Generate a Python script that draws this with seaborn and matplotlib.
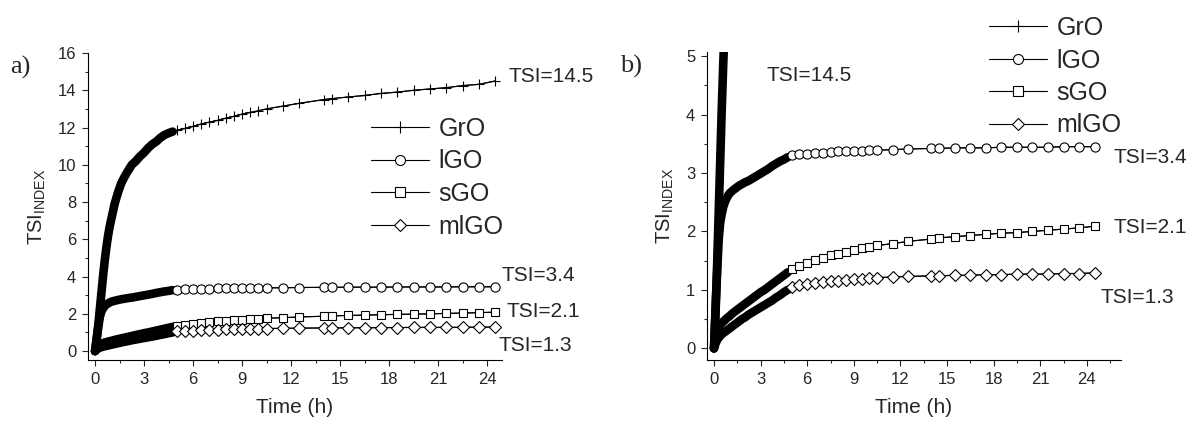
import matplotlib
matplotlib.use("Agg")
import matplotlib.pyplot as plt
from matplotlib.lines import Line2D
from matplotlib.ticker import MultipleLocator
import seaborn as sns

#%% data
series_names = ["GrO", "lGO", "sGO", "mlGO"]
series_markers = ["+", "o", "s", "D"]

# fast-sampled part (first ~5 h)
t_dense = [0, 0.1, 0.2, 0.3, 0.4, 0.5, 0.6, 0.7, 0.8, 0.9, 1.0, 1.2, 1.4, 1.6, 1.8,
           2.0, 2.25, 2.5, 2.75, 3.0, 3.25, 3.5, 3.75, 4.0, 4.25, 4.5, 4.75]
gro_dense = [0, 0.6, 1.4, 2.3, 3.2, 4.1, 4.9, 5.6, 6.2, 6.7, 7.1, 7.9, 8.5, 9.0, 9.35,
             9.65, 10.0, 10.2, 10.45, 10.65, 10.9, 11.1, 11.25, 11.45, 11.6, 11.7, 11.78]
lgo_dense = [0, 0.7, 1.3, 1.85, 2.15, 2.3, 2.42, 2.5, 2.56, 2.61, 2.65, 2.7, 2.74, 2.78, 2.81,
             2.84, 2.87, 2.91, 2.95, 2.99, 3.03, 3.07, 3.12, 3.16, 3.2, 3.23, 3.27]
sgo_dense = [0, 0.2, 0.3, 0.36, 0.4, 0.43, 0.46, 0.48, 0.51, 0.53, 0.55, 0.6, 0.64, 0.68, 0.72,
             0.76, 0.81, 0.86, 0.91, 0.96, 1.0, 1.05, 1.1, 1.15, 1.2, 1.25, 1.3]
mlgo_dense = [0, 0.08, 0.14, 0.18, 0.21, 0.24, 0.26, 0.28, 0.3, 0.32, 0.34, 0.38, 0.42, 0.46, 0.5,
              0.53, 0.58, 0.62, 0.66, 0.7, 0.74, 0.78, 0.82, 0.87, 0.91, 0.96, 1.0]

# slow-sampled part
t_sparse = [5.0, 5.5, 6.0, 6.5, 7.0, 7.5, 8.0, 8.5, 9.0, 9.5, 10.0, 10.5, 11.5, 12.5,
            14.0, 14.5, 15.5, 16.5, 17.5, 18.5, 19.5, 20.5, 21.5, 22.5, 23.5, 24.5]
gro_sparse = [11.85, 11.95, 12.06, 12.19, 12.29, 12.38, 12.5, 12.6, 12.72, 12.81, 12.9, 13.0, 13.15, 13.3,
              13.5, 13.55, 13.64, 13.72, 13.83, 13.9, 14.0, 14.07, 14.14, 14.25, 14.32, 14.5]
lgo_sparse = [3.3, 3.32, 3.33, 3.34, 3.35, 3.36, 3.37, 3.37, 3.38, 3.38, 3.39, 3.39, 3.4, 3.41,
              3.42, 3.42, 3.43, 3.43, 3.43, 3.44, 3.44, 3.44, 3.44, 3.45, 3.45, 3.45]
sgo_sparse = [1.35, 1.41, 1.46, 1.51, 1.55, 1.59, 1.62, 1.65, 1.68, 1.71, 1.73, 1.76, 1.79, 1.83,
              1.87, 1.89, 1.91, 1.93, 1.95, 1.97, 1.98, 2.0, 2.02, 2.04, 2.06, 2.09]
mlgo_sparse = [1.05, 1.08, 1.1, 1.12, 1.14, 1.15, 1.16, 1.17, 1.18, 1.19, 1.2, 1.21, 1.22, 1.23,
               1.24, 1.24, 1.25, 1.25, 1.26, 1.26, 1.27, 1.27, 1.27, 1.28, 1.28, 1.29]

dense_vals = [gro_dense, lgo_dense, sgo_dense, mlgo_dense]
sparse_vals = [gro_sparse, lgo_sparse, sgo_sparse, mlgo_sparse]

tsi_labels = ["TSI=14.5", "TSI=3.4", "TSI=2.1", "TSI=1.3"]

#%% style
sns.set_style("ticks")
plt.rcParams['font.family'] = ['Liberation Sans', 'DejaVu Sans']
plt.rcParams['mathtext.default'] = 'regular'

fig = plt.figure(figsize=(11.88, 4.22), dpi=100)
W, H = 1188, 422
ax_a = fig.add_axes([88 / W, 1 - 360 / H, 414 / W, 307 / H])
ax_b = fig.add_axes([707 / W, 1 - 360 / H, 414 / W, 308 / H])

marker_sizes = {"+": 7.5, "o": 6.6, "s": 6.0, "D": 5.8}


def draw_panel(ax, xlim, ylim, ymajor, yminor):
    for name, mk, d, s in zip(series_names, series_markers, dense_vals, sparse_vals):
        # thin connecting line through everything
        sns.lineplot(x=t_dense + t_sparse, y=d + s, ax=ax, color="black", lw=0.8,
                     estimator=None, sort=False, legend=False)
        # dense sampling shows up as a solid black band
        sns.lineplot(x=t_dense, y=d, ax=ax, color="black", lw=6.2, estimator=None,
                     sort=False, legend=False, solid_capstyle="round")
        sns.lineplot(x=t_sparse, y=s, ax=ax, color="black", lw=0.8, marker=mk,
                     markersize=marker_sizes[mk], markerfacecolor="white",
                     markeredgecolor="black", markeredgewidth=0.8,
                     estimator=None, sort=False, legend=False)
    ax.set_xlim(*xlim)
    ax.set_ylim(*ylim)
    ax.xaxis.set_major_locator(MultipleLocator(3))
    ax.xaxis.set_minor_locator(MultipleLocator(1.5))
    ax.yaxis.set_major_locator(MultipleLocator(ymajor))
    ax.yaxis.set_minor_locator(MultipleLocator(yminor))
    ax.tick_params(which="major", direction="out", length=4.5, width=0.8, labelsize=12, pad=4)
    ax.tick_params(which="minor", direction="out", length=2.5, width=0.8)
    sns.despine(ax=ax)
    for sp in ["left", "bottom"]:
        ax.spines[sp].set_linewidth(0.8)
        ax.spines[sp].set_color("black")
    ax.set_xlabel("Time (h)", fontsize=15, labelpad=8)
    ax.set_ylabel("TSI$_{INDEX}$", fontsize=14.5, labelpad=7)

    handles = [Line2D([0], [0], color="black", lw=0.8, marker=mk,
                      markersize=marker_sizes[mk] + 0.6, markerfacecolor="white",
                      markeredgecolor="black", markeredgewidth=0.8)
               for mk in series_markers]
    return handles


handles = draw_panel(ax_a, (-0.43, 24.9), (-0.48, 16), 2, 1)
draw_panel(ax_b, (-0.45, 26.2), (-0.2, 5.07), 1, 0.5)

leg_kw = dict(frameon=False, fontsize=18, handlelength=2.3, handletextpad=0.4,
              labelspacing=0.34, borderpad=0, borderaxespad=0, loc="upper left")
ax_a.legend(handles, series_names, bbox_to_anchor=(371 / W, 1 - 117 / H),
            bbox_transform=fig.transFigure, **leg_kw)
ax_b.legend(handles, series_names, bbox_to_anchor=(989 / W, 1 - 16 / H),
            bbox_transform=fig.transFigure, **leg_kw)

# TSI annotations
pos_a = [(25.3, 14.73), (24.9, 4.03), (25.2, 2.1), (24.7, 0.32)]
pos_b = [(3.39, 4.67), (25.7, 3.27), (25.7, 2.07), (24.9, 0.87)]
for lab, (x, y) in zip(tsi_labels, pos_a):
    ax_a.text(x, y, lab, fontsize=15, va="center", ha="left", clip_on=False)
for lab, (x, y) in zip(tsi_labels, pos_b):
    ax_b.text(x, y, lab, fontsize=15, va="center", ha="left", clip_on=False)

fig.text(10 / W, 1 - 67 / H, "a)", fontsize=19, family="Liberation Serif", va="center")
fig.text(620 / W, 1 - 66 / H, "b)", fontsize=19, family="Liberation Serif", va="center")

fig.savefig("out.png", dpi=100)
